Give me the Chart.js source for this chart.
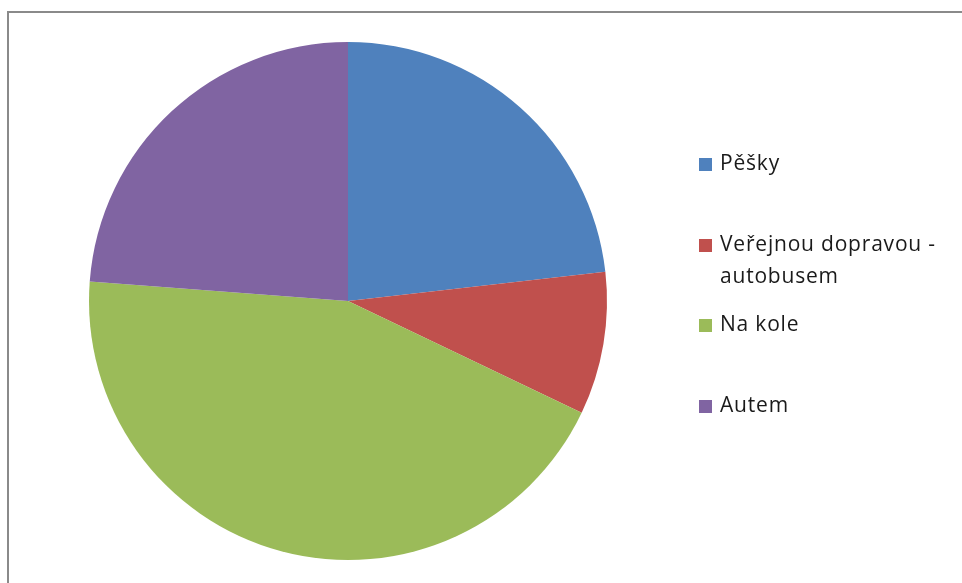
<!DOCTYPE html>
<html>
<head>
<meta charset="utf-8">
<script src="https://cdn.jsdelivr.net/npm/chart.js@4/dist/chart.umd.min.js"></script>
<style>
    html, body { margin: 0; padding: 0; background: #fff; }
    #wrap { width: 962px; height: 583px; position: relative; }
</style>
</head>
<body>
<div id="wrap"><canvas id="chart" width="962" height="583"></canvas></div>
<script>
// shares (percent)
const labels = ['Pěšky', ['Veřejnou dopravou -', 'autobusem'], 'Na kole', 'Autem'];
const values = [23.2, 8.9, 44.1, 23.8];
const colors = ['#4F81BD', '#C0504D', '#9BBB59', '#8064A2'];

// gray frame on the top and left edges
const frame_plugin = {
    id: 'frame',
    beforeDraw: (chart) => {
        const {ctx} = chart;
        ctx.save();
        ctx.fillStyle = '#fff';
        ctx.fillRect(0, 0, chart.width, chart.height);
        ctx.fillStyle = '#8a8a8a';
        ctx.fillRect(7, 11, chart.width - 7, 2);
        ctx.fillRect(7, 11, 2, chart.height - 11);
        ctx.restore();
    }
};

// legend on the right, with a wrapped second label
const legend_plugin = {
    id: 'sideLegend',
    afterDraw: (chart) => {
        const {ctx} = chart;
        const ds = chart.data.datasets[0];
        const rowY = [164, 245, 325, 406];
        ctx.save();
        ctx.font = '21px "Open Sans", "Liberation Sans", sans-serif';
        ctx.letterSpacing = '0.8px';
        ctx.textBaseline = 'middle';
        chart.data.labels.forEach((lab, i) => {
            const y = rowY[i];
            ctx.fillStyle = ds.backgroundColor[i];
            ctx.fillRect(699, y - 6, 13, 13);
            ctx.fillStyle = '#1a1a1a';
            const lines = Array.isArray(lab) ? lab : [lab];
            lines.forEach((t, k) => ctx.fillText(t, 720, y + k * 32));
        });
        ctx.restore();
    }
};

new Chart(document.getElementById('chart'), {
    type: 'pie',
    data: {
        labels: labels,
        datasets: [{
            data: values,
            backgroundColor: colors,
            borderWidth: 0,
        }]
    },
    options: {
        responsive: false,
        animation: false,
        layout: {padding: {left: 89, top: 42, right: 355, bottom: 23}},
        plugins: {
            legend: {display: false},
            tooltip: {enabled: false},
        }
    },
    plugins: [frame_plugin, legend_plugin]
});
</script>
</body>
</html>
